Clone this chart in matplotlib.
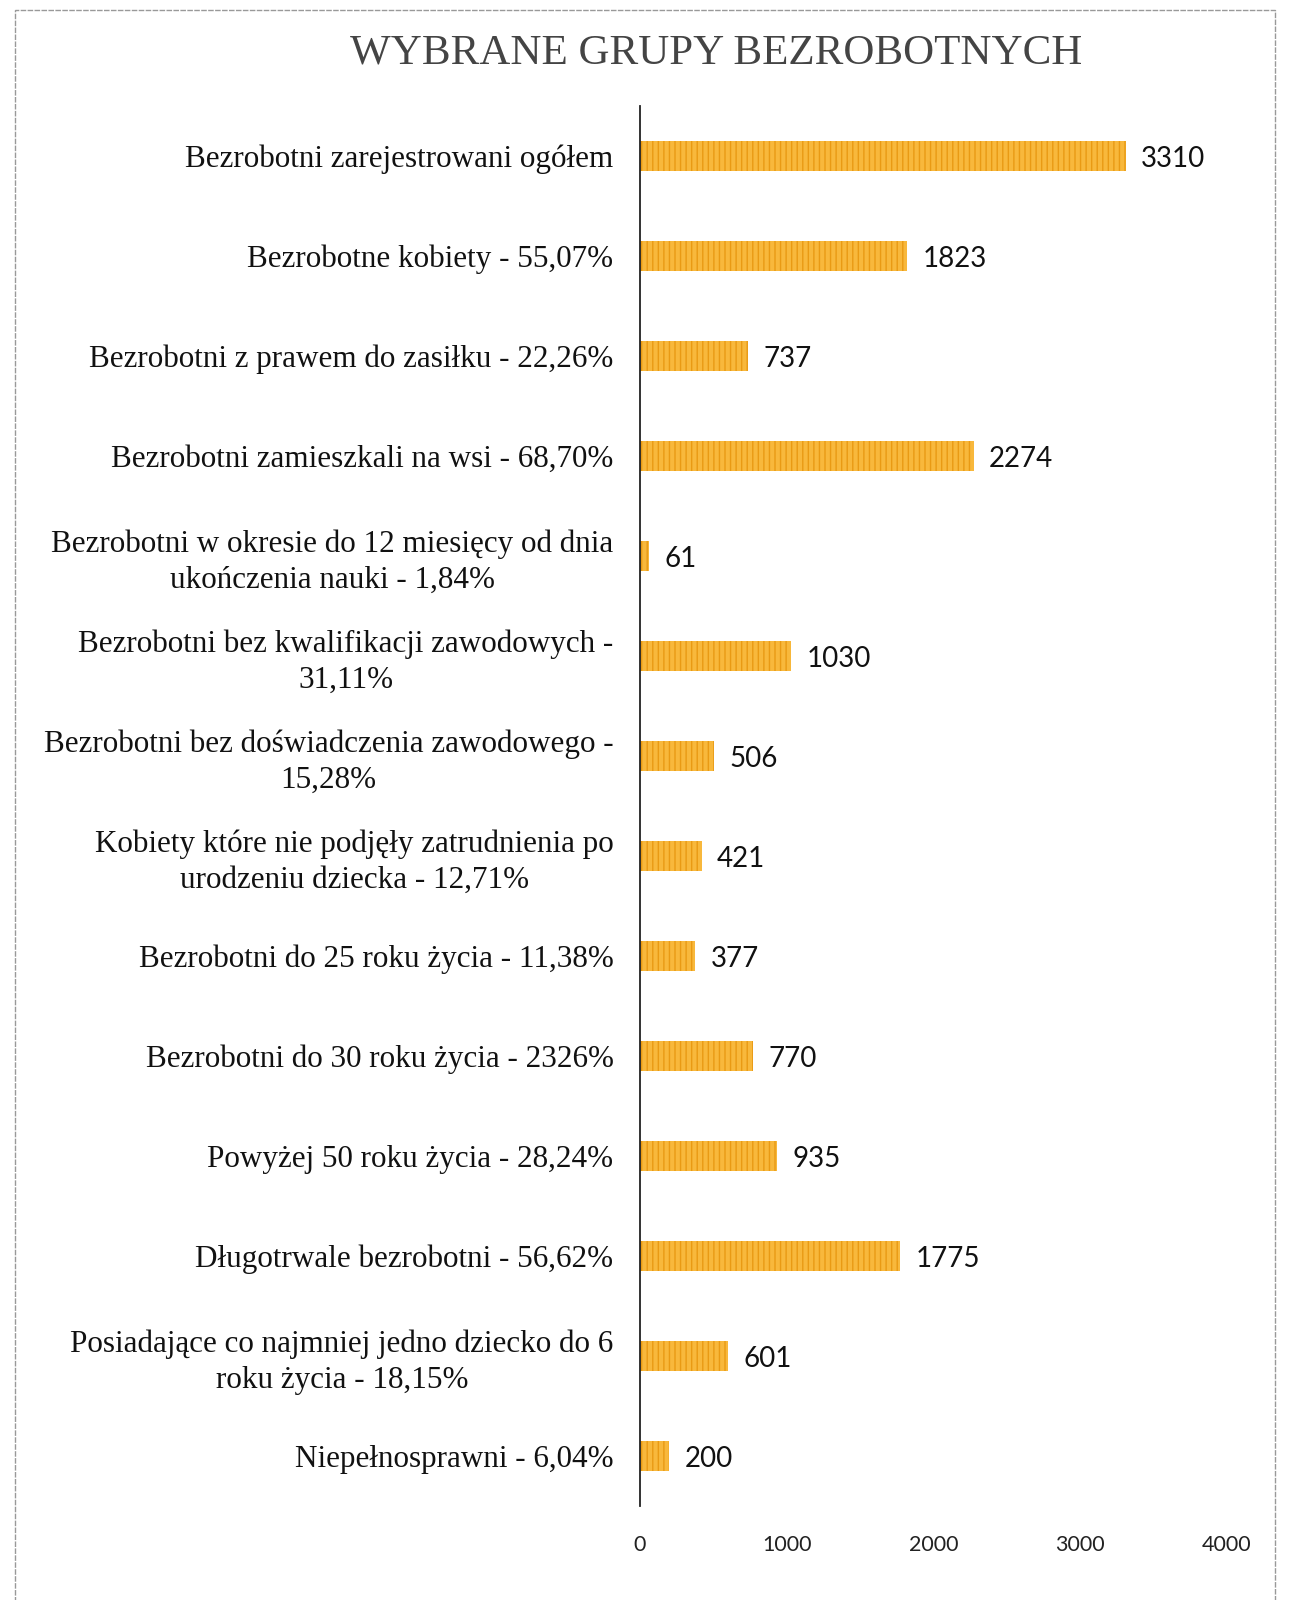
import matplotlib
matplotlib.use("Agg")
import matplotlib.pyplot as plt
from matplotlib.patches import Rectangle

categories = [
    "Bezrobotni zarejestrowani ogółem",
    "Bezrobotne kobiety - 55,07%",
    "Bezrobotni z prawem do zasiłku - 22,26%",
    "Bezrobotni zamieszkali na wsi - 68,70%",
    "Bezrobotni w okresie do 12 miesięcy od dnia\nukończenia nauki - 1,84%",
    "Bezrobotni bez kwalifikacji zawodowych -\n31,11%",
    "Bezrobotni bez doświadczenia zawodowego -\n15,28%",
    "Kobiety które nie podjęły zatrudnienia po\nurodzeniu dziecka - 12,71%",
    "Bezrobotni do 25 roku życia - 11,38%",
    "Bezrobotni do 30 roku życia - 2326%",
    "Powyżej 50 roku życia - 28,24%",
    "Długotrwale bezrobotni - 56,62%",
    "Posiadające co najmniej jedno dziecko do 6\nroku życia - 18,15%",
    "Niepełnosprawni - 6,04%",
]
values = [3310, 1823, 737, 2274, 61, 1030, 506, 421, 377, 770, 935, 1775, 601, 200]
xticks = [0, 1000, 2000, 3000, 4000]
title = "WYBRANE GRUPY BEZROBOTNYCH"

plt.rcParams['hatch.linewidth'] = 1.0
fig = plt.figure(figsize=(13.06, 16), dpi=100)
ax = fig.add_axes([0.49, 0.059, 0.4495, 0.875])

y = list(range(len(categories)))
bars = ax.barh(y, values, height=0.3, color="#F8B83C", edgecolor="#E99A14",
               hatch="|||", linewidth=0.0)
ax.set_ylim(len(categories) - 0.5, -0.5)
ax.set_xlim(0, 4000)

for yi, v in zip(y, values):
    ax.text(v + 105, yi + 0.03, str(v), va="center", ha="left",
            fontsize=20, family="Lato", color="#111111")

ax.set_yticks(y)
ax.set_yticklabels(categories, family="Liberation Serif", fontsize=22.4,
                   color="#111111", multialignment="center", linespacing=1.3)
ax.tick_params(axis="y", length=0, pad=19)
ax.set_xticks(xticks)
ax.set_xticklabels([str(t) for t in xticks], family="Lato", fontsize=15.5,
                   color="#222222")
ax.tick_params(axis="x", length=0, pad=21)

for s in ["top", "right", "bottom"]:
    ax.spines[s].set_visible(False)
ax.spines["left"].set_color("#222222")
ax.spines["left"].set_linewidth(1.3)

fig.text(0.548, 0.9665, title, ha="center", va="center", family="Liberation Serif",
         fontsize=31, color="#444444")

fig.patches.append(Rectangle((15 / 1306, -0.01), (1275 - 15) / 1306, 1 - 10 / 1600 + 0.01,
                             transform=fig.transFigure, fill=False,
                             edgecolor="#999999", linewidth=1.0, linestyle=(0, (4, 1))))

fig.savefig("out.png", dpi=100)
